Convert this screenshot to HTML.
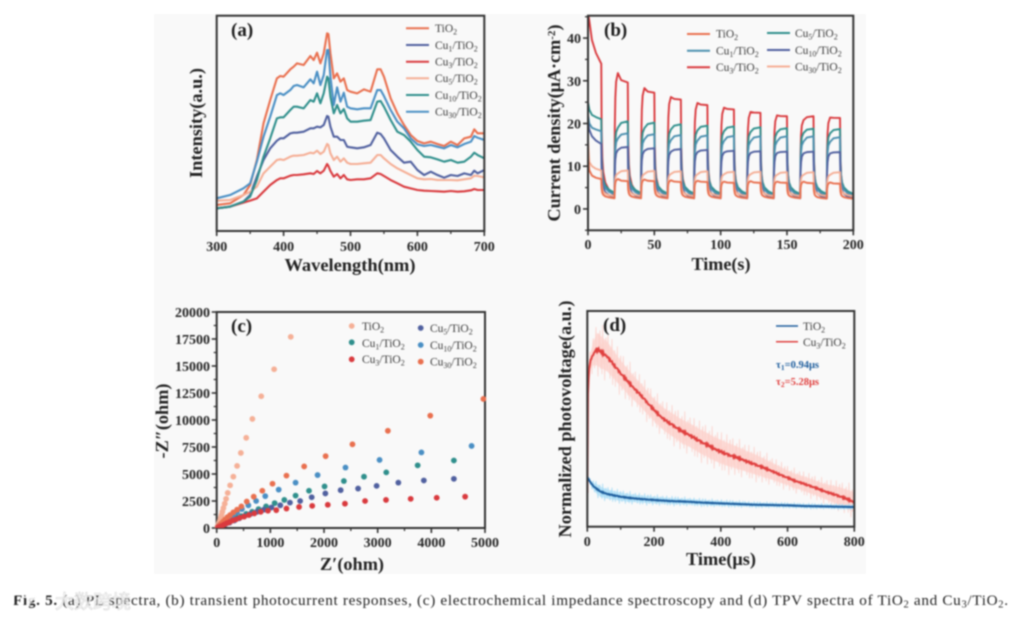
<!DOCTYPE html>
<html lang="en">
<head>
<meta charset="utf-8">
<title>Fig. 5 PL, photocurrent, EIS and TPV spectra</title>
<style>
html,body{margin:0;padding:0;background:#fff;width:1017px;height:619px;overflow:hidden}
svg{display:block;filter:blur(0.7px);font-family:"Liberation Serif","Noto Serif CJK SC",serif}
.tl{font-weight:bold;font-size:14px;fill:#262626}
.at{font-weight:bold;font-size:18px;fill:#222}
.pl{font-weight:bold;font-size:19px;fill:#1c1c1c}
.lg{font-size:11.5px;fill:#3c3c3c}
</style>
</head>
<body>
<svg id="fig" width="1017" height="619" viewBox="0 0 1017 619" xmlns="http://www.w3.org/2000/svg">
  <rect x="154" y="14" width="712" height="560" fill="#f9f9f9"/>
  <defs>
    <clipPath id="clipA"><rect x="217" y="16" width="267" height="215"/></clipPath>
    <clipPath id="clipB"><rect x="588" y="16" width="265" height="214"/></clipPath>
    <clipPath id="clipC"><rect x="210" y="305" width="280" height="223"/></clipPath>
    <clipPath id="clipD"><rect x="587" y="311" width="267" height="216"/></clipPath>
  </defs>

  <g id="panelA"></g>
  <g id="panelB"></g>
  <g id="panelC"></g>
  <g id="panelD"></g>

  <g>
    <text class="pl" x="231" y="36">(a)</text>
    <text class="at" x="350" y="271" text-anchor="middle" textLength="131" lengthAdjust="spacingAndGlyphs">Wavelength(nm)</text>
    <text class="at" transform="translate(202,123) rotate(-90)" text-anchor="middle" textLength="110" lengthAdjust="spacingAndGlyphs">Intensity(a.u.)</text>
    <g>
      <line x1="406" x2="429" y1="28.3" y2="28.3" stroke="#e9704f" stroke-width="2"/><text class="lg" x="435" y="32">TiO<tspan dy="2.5" font-size="8">2</tspan></text>
      <line x1="406" x2="429" y1="45" y2="45" stroke="#50609f" stroke-width="2"/><text class="lg" x="435" y="49">Cu<tspan dy="2.5" font-size="8">1</tspan><tspan dy="-2.5">/TiO</tspan><tspan dy="2.5" font-size="8">2</tspan></text>
      <line x1="406" x2="429" y1="61.7" y2="61.7" stroke="#d93a3e" stroke-width="2"/><text class="lg" x="435" y="65.5">Cu<tspan dy="2.5" font-size="8">3</tspan><tspan dy="-2.5">/TiO</tspan><tspan dy="2.5" font-size="8">2</tspan></text>
      <line x1="406" x2="429" y1="78.3" y2="78.3" stroke="#f5ae95" stroke-width="2"/><text class="lg" x="435" y="82">Cu<tspan dy="2.5" font-size="8">5</tspan><tspan dy="-2.5">/TiO</tspan><tspan dy="2.5" font-size="8">2</tspan></text>
      <line x1="406" x2="429" y1="95" y2="95" stroke="#2f8f8c" stroke-width="2"/><text class="lg" x="435" y="99">Cu<tspan dy="2.5" font-size="8">10</tspan><tspan dy="-2.5">/TiO</tspan><tspan dy="2.5" font-size="8">2</tspan></text>
      <line x1="406" x2="429" y1="111.7" y2="111.7" stroke="#4a8fc4" stroke-width="2"/><text class="lg" x="435" y="115.5">Cu<tspan dy="2.5" font-size="8">30</tspan><tspan dy="-2.5">/TiO</tspan><tspan dy="2.5" font-size="8">2</tspan></text>
    </g>
  </g>

  <g>
    <text class="pl" x="604" y="36">(b)</text>
    <text class="at" x="721" y="270" text-anchor="middle" textLength="59" lengthAdjust="spacingAndGlyphs">Time(s)</text>
    <text class="at" transform="translate(560,123) rotate(-90)" text-anchor="middle" textLength="197" lengthAdjust="spacingAndGlyphs">Current density(μA·cm<tspan dy="-5" font-size="11">-2</tspan><tspan dy="5">)</tspan></text>
    <g>
      <line x1="687" x2="710" y1="34" y2="34" stroke="#e9704f" stroke-width="2"/><text class="lg" x="716" y="37.5">TiO<tspan dy="2.5" font-size="8">2</tspan></text>
      <line x1="687" x2="710" y1="50.7" y2="50.7" stroke="#4a8fae" stroke-width="2"/><text class="lg" x="716" y="54.5">Cu<tspan dy="2.5" font-size="8">1</tspan><tspan dy="-2.5">/TiO</tspan><tspan dy="2.5" font-size="8">2</tspan></text>
      <line x1="687" x2="710" y1="67.3" y2="67.3" stroke="#d93a3e" stroke-width="2"/><text class="lg" x="716" y="71">Cu<tspan dy="2.5" font-size="8">3</tspan><tspan dy="-2.5">/TiO</tspan><tspan dy="2.5" font-size="8">2</tspan></text>
      <line x1="767" x2="790" y1="33" y2="33" stroke="#2f8f8c" stroke-width="2"/><text class="lg" x="795" y="37">Cu<tspan dy="2.5" font-size="8">5</tspan><tspan dy="-2.5">/TiO</tspan><tspan dy="2.5" font-size="8">2</tspan></text>
      <line x1="767" x2="790" y1="50" y2="50" stroke="#50609f" stroke-width="2"/><text class="lg" x="795" y="54">Cu<tspan dy="2.5" font-size="8">10</tspan><tspan dy="-2.5">/TiO</tspan><tspan dy="2.5" font-size="8">2</tspan></text>
      <line x1="767" x2="790" y1="66.5" y2="66.5" stroke="#f5ae95" stroke-width="2"/><text class="lg" x="795" y="70.5">Cu<tspan dy="2.5" font-size="8">30</tspan><tspan dy="-2.5">/TiO</tspan><tspan dy="2.5" font-size="8">2</tspan></text>
    </g>
  </g>

  <g>
    <text class="pl" x="231" y="332">(c)</text>
    <text class="at" x="352" y="570" text-anchor="middle" textLength="64" lengthAdjust="spacingAndGlyphs">Z′(ohm)</text>
    <text class="at" transform="translate(168,421) rotate(-90)" text-anchor="middle" textLength="75" lengthAdjust="spacingAndGlyphs">-Z″(ohm)</text>
    <g>
      <circle cx="351.7" cy="326" r="2.9" fill="#f5b097"/><text class="lg" x="362" y="330">TiO<tspan dy="2.5" font-size="8">2</tspan></text>
      <circle cx="351.7" cy="342.3" r="2.9" fill="#2f8f8c"/><text class="lg" x="362" y="347">Cu<tspan dy="2.5" font-size="8">1</tspan><tspan dy="-2.5">/TiO</tspan><tspan dy="2.5" font-size="8">2</tspan></text>
      <circle cx="351.7" cy="359.3" r="2.9" fill="#d93a3e"/><text class="lg" x="362" y="363">Cu<tspan dy="2.5" font-size="8">3</tspan><tspan dy="-2.5">/TiO</tspan><tspan dy="2.5" font-size="8">2</tspan></text>
      <circle cx="420.7" cy="328" r="2.9" fill="#50609f"/><text class="lg" x="430" y="332">Cu<tspan dy="2.5" font-size="8">5</tspan><tspan dy="-2.5">/TiO</tspan><tspan dy="2.5" font-size="8">2</tspan></text>
      <circle cx="420.7" cy="345" r="2.9" fill="#4a8fc4"/><text class="lg" x="430" y="349">Cu<tspan dy="2.5" font-size="8">10</tspan><tspan dy="-2.5">/TiO</tspan><tspan dy="2.5" font-size="8">2</tspan></text>
      <circle cx="420.7" cy="361.7" r="2.9" fill="#e9704f"/><text class="lg" x="430" y="365.5">Cu<tspan dy="2.5" font-size="8">30</tspan><tspan dy="-2.5">/TiO</tspan><tspan dy="2.5" font-size="8">2</tspan></text>
    </g>
  </g>

  <g>
    <text class="pl" x="603" y="331">(d)</text>
    <text class="at" x="721" y="565" text-anchor="middle" textLength="70" lengthAdjust="spacingAndGlyphs">Time(μs)</text>
    <text class="at" transform="translate(571,419) rotate(-90)" text-anchor="middle" textLength="237" lengthAdjust="spacingAndGlyphs">Normalized photovoltage(a.u.)</text>
    <g>
      <line x1="776" x2="798" y1="326" y2="326" stroke="#1c5c9c" stroke-width="1.5"/><text class="lg" x="803" y="330">TiO<tspan dy="2.5" font-size="8">2</tspan></text>
      <line x1="776" x2="798" y1="341.7" y2="341.7" stroke="#e0403f" stroke-width="1.5"/><text class="lg" x="803" y="346">Cu<tspan dy="2.5" font-size="8">3</tspan><tspan dy="-2.5">/TiO</tspan><tspan dy="2.5" font-size="8">2</tspan></text>
      <text x="776" y="368" font-size="10.5" font-weight="bold" fill="#1c5c9c">τ<tspan dy="2" font-size="7.5">1</tspan><tspan dy="-2">=0.94μs</tspan></text>
      <text x="776" y="385" font-size="10.5" font-weight="bold" fill="#e0403f">τ<tspan dy="2" font-size="7.5">2</tspan><tspan dy="-2">=5.28μs</tspan></text>
    </g>
  </g>

  <text x="13" y="605" font-size="15.2" fill="#222" textLength="995" lengthAdjust="spacing"><tspan font-weight="bold">Fig. 5.</tspan> (a) PL spectra, (b) transient photocurrent responses, (c) electrochemical impedance spectroscopy and (d) TPV spectra of TiO<tspan dy="2.5" font-size="10.5">2</tspan><tspan dy="-2.5"> and Cu</tspan><tspan dy="2.5" font-size="10.5">3</tspan><tspan dy="-2.5">/TiO</tspan><tspan dy="2.5" font-size="10.5">2</tspan><tspan dy="-2.5">.</tspan></text>
  <g opacity="0.85">
    <circle cx="20" cy="601" r="9" fill="none" stroke="#fff" stroke-width="3.5"/>
    <circle cx="35" cy="592" r="7" fill="none" stroke="#fff" stroke-width="3.5"/>
    <text x="55" y="608" font-size="19" fill="#fff" stroke="#cfcfcf" stroke-width="0.6" font-family="'Noto Sans CJK SC',sans-serif">大数跨境</text>
  </g>
</svg>

<script>
// Panel (a): PL spectra
const wavelengths = [300,320,340,350,360,370,380,390,395,400,410,415,420,430,440,445,450,455,460,465,467,470,475,480,485,490,495,500,510,520,530,540,545,550,560,570,580,590,600,610,620,630,640,650,660,670,680,685,690,700];
const plTiO2 = [78,83,108,138,213,323,393,458,465,463,485,493,503,498,525,513,535,503,533,593,591,533,458,473,448,458,423,418,413,425,418,485,485,463,398,353,318,288,270,263,268,261,255,268,258,278,283,305,293,293];
const plCu30 = [98,108,128,143,208,283,343,408,413,408,423,435,438,431,455,443,478,438,468,543,543,463,378,431,388,415,373,368,365,368,368,423,423,405,363,328,308,278,260,255,258,253,248,258,251,261,268,285,280,273];
const plCu10 = [68,73,88,103,153,223,278,338,341,341,363,373,373,368,393,388,413,383,413,463,458,403,353,378,353,366,338,328,328,331,333,388,390,373,333,298,288,268,243,223,221,215,208,213,205,208,223,235,228,218];
const plCu1 = [68,73,88,108,163,213,248,271,278,278,293,295,295,298,308,308,313,311,318,345,343,313,283,283,273,273,253,251,248,251,258,295,291,278,243,223,205,208,183,168,178,168,160,168,165,173,168,181,173,183];
const plCu5 = [91,93,108,118,133,173,193,213,215,213,223,226,226,228,235,233,241,231,238,261,258,233,213,223,208,218,205,201,201,203,205,228,228,218,201,188,178,168,158,155,156,153,153,153,152,155,158,166,165,161];
const plCu3 = [68,73,85,91,98,118,138,153,158,158,166,168,168,170,173,171,180,173,181,201,195,180,163,171,158,168,155,153,155,155,158,173,171,165,153,143,133,128,123,121,120,119,118,120,118,119,122,126,123,123];
const aXMajor = [300,400,500,600,700];
const aXMinor = [350,450,550,650];

// Panel (b): transient photocurrent (first light pulse at t=0,1,3,6,10; then per-cycle start-of-plateau, end-of-plateau, dark level)
const firstPulseTimes = [0,1,3,6,10];
const cycleStarts = [20,40,60,80,100,120,140,160,180];
const bTiO2First = [12,9,7.8,7.3,7.0];
const bTiO2Peak = [7,6.9,6.7,6.6,6.4,6.5,6.4,6.4,6.2];
const bTiO2End = [6.5,6.5,6.3,6.3,6.1,6.1,6.1,6,5.9];
const bTiO2Low = [2.5,2.5,2.5,2.5,2.5,2.5,2.5,2.5,2.4,2.4];
const bCu1First = [22,20,19,18.6,18.2];
const bCu1Peak = [16.5,16.3,16.1,16,15.9,15.8,15.8,15.8,15.7];
const bCu1End = [17.7,17.5,17.3,17.2,17.1,17,17,17,16.8];
const bCu1Low = [3.4,3.3,3.2,3.2,3.2,3.1,3.1,3.1,3.1,3.1];
const bCu3First = [46,44,39.5,36.5,34];
const bCu3Peak = [31.8,28.3,26.2,24.8,23.7,22.7,21.9,20.8,21.4];
const bCu3End = [29.6,27.2,25.6,24.3,23.3,22.5,21.7,21.7,21.3];
const bCu3Low = [3.1,3,2.9,2.9,2.8,2.8,2.8,2.8,2.8,2.8];
const bCu5First = [25,23.2,22,21.5,21];
const bCu5Peak = [19,18.9,18.6,18.4,18.2,18,17.9,17.8,17.7];
const bCu5End = [20.5,20.2,19.8,19.5,19.3,19.1,18.9,18.8,18.7];
const bCu5Low = [3.8,3.7,3.6,3.6,3.6,3.5,3.5,3.5,3.5,3.5];
const bCu10First = [20.5,18.5,17,16,15.2];
const bCu10Peak = [13.8,13.6,13.4,13.3,13.2,13.1,13.1,13,13];
const bCu10End = [14.5,14.2,14,13.8,13.6,13.5,13.4,13.4,13.3];
const bCu10Low = [2.7,2.6,2.6,2.5,2.5,2.5,2.5,2.5,2.5,2.4];
const bCu30First = [16,11,10,9.4,9];
const bCu30Peak = [8.3,8.2,8.2,8.1,8.1,8.1,8,8,8];
const bCu30End = [9,8.9,8.8,8.8,8.7,8.7,8.6,8.6,8.6];
const bCu30Low = [3,3,3,3,3,3,3,3,3,3];
const bXMajor = [0,50,100,150,200];
const bXMinor = [25,75,125,175];
const bYMajor = [0,10,20,30,40];
const bYMinor = [-5,5,15,25,35,45];

// Panel (c): Nyquist plot
const cTiO2X = [1380,1070,830,665,550,450,380,310,250,205,175,150,125,105,90,75,60,45,30,15];
const cTiO2Y = [17700,14700,12200,10100,8350,6950,5750,4750,3950,3250,2700,2250,1850,1500,1200,950,700,500,300,150];
const cCu1X = [4420,3745,3160,2745,2370,2010,1720,1470,1260,1080,920,780,660,550,460,380,300,230,160,80];
const cCu1Y = [6250,5800,5150,4750,4350,3850,3450,3000,2600,2300,2000,1750,1500,1300,1100,950,800,600,400,200];
const cCu5X = [4420,3860,3385,2980,2635,2310,2025,1770,1555,1365,1185,1020,880,750,630,520,420,330,240,160,80];
const cCu5Y = [4550,4400,4200,3900,3650,3500,3200,2850,2500,2350,2100,1900,1700,1500,1300,1100,900,700,500,350,180];
const cCu10X = [4750,3815,3035,2400,1880,1470,1155,905,735,590,470,380,300,240,190,140,100,60,30];
const cCu10Y = [7600,7000,6300,5600,4900,4200,3550,2950,2500,2100,1750,1450,1200,1000,800,600,450,300,150];
const cCu30X = [4970,3980,3190,2530,2030,1630,1300,1040,850,690,560,460,380,310,250,200,160,120,80,40];
const cCu30Y = [11950,10400,9000,7750,6650,5700,4850,4100,3450,2900,2450,2000,1700,1450,1200,1000,800,600,400,200];
const cCu3X = [4630,4100,3615,3155,2765,2390,2070,1780,1535,1300,1110,955,820,700,600,510,430,360,300,240,190,140,100,60,25];
const cCu3Y = [2900,2800,2700,2600,2500,2250,2150,2050,1950,1800,1650,1600,1500,1350,1200,1050,950,800,700,550,450,320,220,130,60];
const cXMajor = [0,1000,2000,3000,4000,5000];
const cXMinor = [500,1500,2500,3500,4500];
const cYMajor = [0,2500,5000,7500,10000,12500,15000,17500,20000];
const cYMinor = [1250,3750,6250,8750,11250,13750,16250,18750];

// Panel (d): TPV decay
const dRedT = [0,2,5,10,20,30,40,60,80,100,120,140,160,180,200,220,240,260,280,300,320,340,360,380,400,420,440,460,480,500,520,540,560,580,600,620,640,660,680,700,720,740,760,780,800];
const dRedV = [100,400,470,500,522,532,525,510,485,460,437,415,395,372,350,330,315,302,288,278,267,255,245,234,225,217,210,203,195,188,180,172,164,155,147,138,132,125,118,110,103,97,90,82,73];
const dBlueT = [0,5,10,20,30,40,60,80,100,120,150,200,250,300,350,400,450,500,550,600,650,700,750,800];
const dBlueV = [150,140,132,120,112,105,98,94,90,87,84,80,77,75,72,70,68,66,65,64,62,61,60,59];
const dBandT = [0,30,100,200,300,400,500,600,700,800];
const dRedBand = [20,90,70,60,65,65,55,40,40,55];
const dBlueBand = [5,28,22,18,15,13,11,10,10,10];
const dJitter = [0.62,-0.81,0.35,-0.22,0.94,-0.55,0.12,-0.97,0.48,0.76,-0.31,-0.68,0.21,0.88,-0.42,0.05,-0.89,0.57,-0.14,0.71,-0.6,0.29,-0.75,0.99,-0.38,0.44,-0.92,0.16,0.66,-0.27,-0.5,0.83,-0.09,0.39,-0.71,0.52,-0.18,0.91,-0.84,0.25,-0.46];
const dXMajor = [0,200,400,600,800];
const dXMinor = [100,300,500,700];

const NS = 'http://www.w3.org/2000/svg';
function mk(tag, attrs, parent) {
  const e = document.createElementNS(NS, tag);
  for (const k in attrs) e.setAttribute(k, attrs[k]);
  parent.appendChild(e);
  return e;
}
function scale(d0, d1, r0, r1) { return v => r0 + (v - d0) * (r1 - r0) / (d1 - d0); }
function lerp(xs, ys, x) {
  for (let i = 1; i < xs.length; i++) {
    if (x <= xs[i]) return ys[i-1] + (ys[i] - ys[i-1]) * (x - xs[i-1]) / (xs[i] - xs[i-1]);
  }
  return ys[ys.length - 1];
}
function pathOf(pts) { return pts.map((p, i) => (i ? 'L' : 'M') + p[0].toFixed(2) + ' ' + p[1].toFixed(2)).join(''); }

function drawFrame(parent, L, R, T, B, sx, sy, xMaj, xMin, yMaj, yMin, xLabelY, yLabelX) {
  const frame = mk('rect', {x:L, y:T, width:R-L, height:B-T, fill:'none', stroke:'#333', 'stroke-width':2}, parent);
  
  
  xMaj.forEach(v => {
    const t = mk('line', {x1:sx(v), x2:sx(v), y1:B, y2:B+5, stroke:'#333', 'stroke-width':1.6}, parent);
    
    
    const l = mk('text', {x:sx(v), y:xLabelY, 'text-anchor':'middle', class:'tl'}, parent);
    
    
    l.textContent = v;
  });
  xMin.forEach(v => {
    const t = mk('line', {x1:sx(v), x2:sx(v), y1:B, y2:B+3, stroke:'#333', 'stroke-width':1.3}, parent);
    
    
  });
  yMaj.forEach(v => {
    const t = mk('line', {x1:L-5, x2:L, y1:sy(v), y2:sy(v), stroke:'#333', 'stroke-width':1.6}, parent);
    
    
    const l = mk('text', {x:yLabelX, y:sy(v)+5, 'text-anchor':'end', class:'tl'}, parent);
    
    
    l.textContent = v;
  });
  yMin.forEach(v => {
    const t = mk('line', {x1:L-3, x2:L, y1:sy(v), y2:sy(v), stroke:'#333', 'stroke-width':1.3}, parent);
    
    
  });
}

/* ---------- Panel A ---------- */
const gA = document.getElementById('panelA');
const ax = scale(300, 700, 216.7, 484.3);
const ay = scale(0, 646, 231, 15.7);
const aSeries = [
  [plTiO2, '#e9704f', 'line-tio2'],
  [plCu1, '#50609f', 'line-cu1'],
  [plCu5, '#f5ae95', 'line-cu5'],
  [plCu3, '#d93a3e', 'line-cu3'],
  [plCu10, '#2f8f8c', 'line-cu10'],
  [plCu30, '#4a8fc4', 'line-cu30']
];
aSeries.forEach(s => {
  const d = pathOf(wavelengths.map((w, i) => [ax(w), ay(s[0][i])]));
  const p = mk('path', {d, fill:'none', stroke:s[1], 'stroke-width':2.1, 'stroke-linejoin':'round', 'clip-path':'url(#clipA)'}, gA);
  
  
});
drawFrame(gA, 216.7, 484.3, 15.7, 231, ax, ay, aXMajor, aXMinor, [], [], 251, 0);

/* ---------- Panel B ---------- */
const gB = document.getElementById('panelB');
const bx = scale(0, 200, 588, 853.3);
const by = scale(-5, 45, 230.3, 16.7);
function photocurrent(first, peak, end, low) {
  const pts = firstPulseTimes.map((t, i) => [t, first[i]]);
  const dark = (t0, E, L) => {
    const a = E - L;
    pts.push([t0+0.3, L+0.5*a],[t0+0.8, L+0.28*a],[t0+1.5, L+0.18*a],[t0+3, L+0.1*a],[t0+6, L+0.04*a],[t0+10, L]);
  };
  dark(10, first[first.length-1], low[0]);
  cycleStarts.forEach((t0, k) => {
    const L = low[k], P = peak[k], E = end[k], a = P - L;
    pts.push([t0+0.2, L+0.55*a],[t0+0.6, L+0.8*a],[t0+1.2, L+0.93*a],[t0+2.5, P],[t0+5, P+(E-P)*0.75],[t0+10, E]);
    dark(t0+10, E, low[k+1]);
  });
  return pts;
}
const bSeries = [
  [bCu3First, bCu3Peak, bCu3End, bCu3Low, '#d93a3e', 'line-cu3'],
  [bCu5First, bCu5Peak, bCu5End, bCu5Low, '#2f8f8c', 'line-cu5'],
  [bCu1First, bCu1Peak, bCu1End, bCu1Low, '#4a8fae', 'line-cu1'],
  [bCu10First, bCu10Peak, bCu10End, bCu10Low, '#50609f', 'line-cu10'],
  [bCu30First, bCu30Peak, bCu30End, bCu30Low, '#f5ae95', 'line-cu30'],
  [bTiO2First, bTiO2Peak, bTiO2End, bTiO2Low, '#e9704f', 'line-tio2']
];
bSeries.forEach(s => {
  const d = pathOf(photocurrent(s[0], s[1], s[2], s[3]).map(p => [bx(p[0]), by(p[1])]));
  const p = mk('path', {d, fill:'none', stroke:s[4], 'stroke-width':1.9, 'stroke-linejoin':'round', 'clip-path':'url(#clipB)'}, gB);
  
  
});
drawFrame(gB, 588, 853.3, 15.7, 230.3, bx, by, bXMajor, bXMinor, bYMajor, bYMinor, 249, 581);

/* ---------- Panel C ---------- */
const gC = document.getElementById('panelC');
const cx = scale(0, 5000, 216.7, 485);
const cy = scale(0, 20000, 528, 312);
const cSeries = [
  [cTiO2X, cTiO2Y, '#f5b097', 'tio2'],
  [cCu1X, cCu1Y, '#2f8f8c', 'cu1'],
  [cCu5X, cCu5Y, '#50609f', 'cu5'],
  [cCu10X, cCu10Y, '#4a8fc4', 'cu10'],
  [cCu30X, cCu30Y, '#e9704f', 'cu30'],
  [cCu3X, cCu3Y, '#d93a3e', 'cu3']
];
drawFrame(gC, 216.7, 485, 312, 528, cx, cy, cXMajor, cXMinor, cYMajor, cYMinor, 547, 210);
cSeries.forEach(s => {
  const g = mk('g', {'clip-path':'url(#clipC)'}, gC);
  
  
  s[0].forEach((xv, i) => {
    const c = mk('circle', {cx:cx(xv), cy:cy(s[1][i]), r:2.9, fill:s[2]}, g);
    
    
  });
});

/* ---------- Panel D ---------- */
const gD = document.getElementById('panelD');
const dx = scale(0, 800, 587.3, 854.3);
const dy = scale(0, 647, 526.7, 311);
function drawDecay(T, V, band, pale, paler, dark, name) {
  const up = [], dn = [], spike = [], core = [];
  for (let i = 0, t = 0; t <= 800; i++, t += 2) {
    const m = lerp(T, V, t), w = lerp(dBandT, band, t), j = dJitter[i % dJitter.length];
    up.push([dx(t), dy(m + w * 0.55)]);
    dn.unshift([dx(t), dy(m - w * 0.55)]);
    spike.push([dx(t), dy(m + w * j)]);
    core.push([dx(t), dy(m + w * 0.05 * dJitter[(i * 7) % dJitter.length])]);
  }
  const b = mk('path', {d:pathOf(up.concat(dn)) + 'Z', fill:paler, 'clip-path':'url(#clipD)'}, gD);
  
  
  const s = mk('path', {d:pathOf(spike), fill:'none', stroke:pale, 'stroke-width':0.8, 'clip-path':'url(#clipD)'}, gD);
  
  
  const c = mk('path', {d:pathOf(core), fill:'none', stroke:dark, 'stroke-width':2, 'clip-path':'url(#clipD)'}, gD);
  
  
}
drawDecay(dRedT, dRedV, dRedBand, '#fcd2cc', '#fcdcd8', '#e0403f', 'cu3');
drawDecay(dBlueT, dBlueV, dBlueBand, '#a9dcf5', '#c4e7f8', '#1c5c9c', 'tio2');
drawFrame(gD, 587.3, 854.3, 311, 526.7, dx, dy, dXMajor, dXMinor, [], [], 546, 0);
</script>
</body>
</html>
